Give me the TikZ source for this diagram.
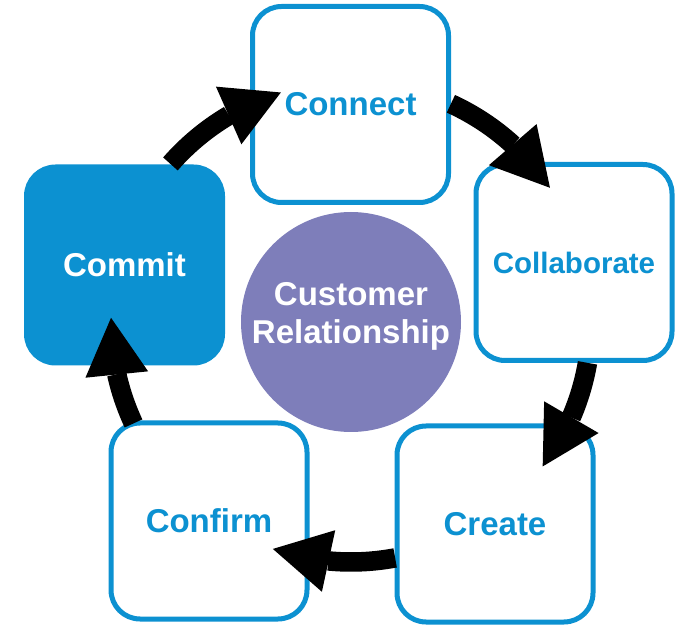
\documentclass[tikz,border=0pt]{standalone}
\usepackage{fontspec}
\setmainfont{Liberation Sans}
\usetikzlibrary{arrows.meta,bending}
\definecolor{cblue}{RGB}{12,145,209}
\definecolor{cpurple}{RGB}{126,126,186}
\begin{document}
\begin{tikzpicture}[x=1pt,y=1pt,
  stepbox/.style={draw=cblue, line width=5pt, fill=white, rounded corners=29pt,
    minimum width=196pt, minimum height=196pt, inner sep=0pt, text=cblue,
    font=\bfseries\fontsize{33}{38}\selectfont},
  cycarrow/.style={line width=19.5pt, draw=black,
    -{Triangle[length=57pt,width=63pt,line width=0pt,flex]}}]
\useasboundingbox (0,0) rectangle (686,-628);
\coordinate (O) at (351,-322);
% step boxes
\node[stepbox] (connect) at (350.5,-104.5) {Connect};
\node[stepbox, font=\bfseries\fontsize{29.5}{34}\selectfont] (collab) at (574,-262.5) {Collaborate};
\node[stepbox] (create) at (495,-524) {Create};
\node[stepbox] (confirm) at (209,-521) {Confirm};
\node[stepbox, fill=cblue, text=white] (commit) at (124.5,-265) {Commit};
% centre
\node[circle, fill=cpurple, minimum size=220pt, inner sep=0pt] (crm) at (O) {};
\node[text=white, align=center, font=\bfseries\fontsize{33}{38}\selectfont]
  (crmtext) at ([yshift=5.5pt]crm.center) {Customer\\Relationship};
% cycle arrows
\coordinate (s1) at ([shift={(138.8:240)}]O);
\coordinate (s2) at ([shift={(65.4:240)}]O);
\coordinate (s3) at ([shift={(-9.8:240)}]O);
\coordinate (s4) at ([shift={(-79.4:240)}]O);
\coordinate (s5) at ([shift={(205:240)}]O);
\draw[cycarrow] (s1) arc[start angle=138.8, end angle=107, radius=240];
\draw[cycarrow] (s2) arc[start angle=65.4, end angle=34, radius=240];
\draw[cycarrow] (s3) arc[start angle=-9.8, end angle=-37, radius=240];
\draw[cycarrow] (s4) arc[start angle=-79.4, end angle=-109, radius=240];
\draw[cycarrow] (s5) arc[start angle=205, end angle=179, radius=240];
\end{tikzpicture}
\end{document}
